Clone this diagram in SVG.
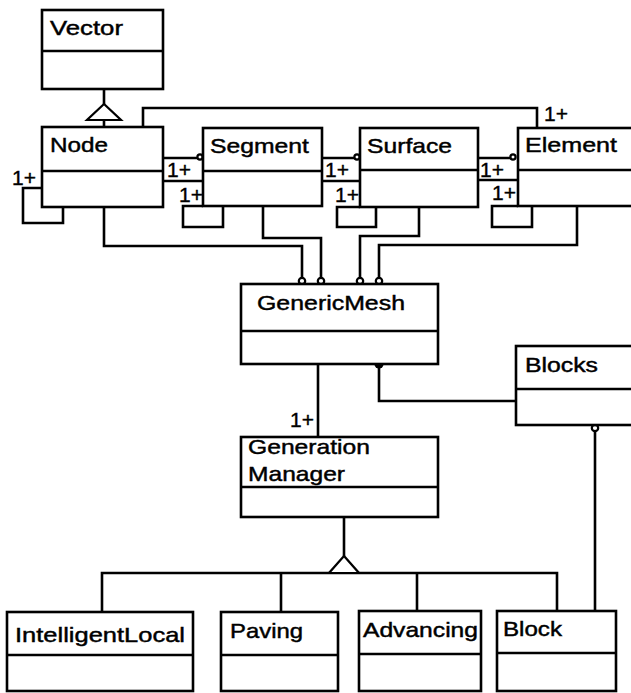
<svg xmlns="http://www.w3.org/2000/svg" width="631" height="693" viewBox="0 0 631 693">
  <style>
    .box { fill: #fff; stroke: #000; stroke-width: 2.6; }
    .div { stroke: #000; stroke-width: 2.4; fill: none; }
    .ln { stroke: #000; stroke-width: 2.6; fill: none; stroke-linejoin: miter; }
    .lbl { font-family: "Liberation Sans", Arial, Helvetica, sans-serif; font-size: 21px; fill: #000; stroke: #000; stroke-width: 0.45; }
    .mult { font-family: "Liberation Sans", Arial, Helvetica, sans-serif; font-size: 21px; fill: #000; stroke: #000; stroke-width: 0.4; }
    .hollow { fill: #fff; stroke: #000; stroke-width: 2.2; }
    .dot { fill: #000; stroke: none; }
  </style>
  <rect width="631" height="693" fill="#fff"/>

  <!-- associations, aggregations and generalizations -->
  <g id="connectors">
    <!-- Vector generalization -->
    <path class="ln" d="M104,89 V104 M104,120 V127"/>
    <polygon class="hollow" points="104,104 87,120 121,120"/>

    <!-- Node to Element over the top -->
    <path class="ln" d="M143,127 V108 H537 V128"/>
    <text class="mult" x="544" y="121">1+</text>

    <!-- self associations -->
    <path class="ln" d="M42,188 H23 V223 H63 V207"/>
    <text class="mult" x="12" y="185">1+</text>
    <path class="ln" d="M203,206 H183 V227 H223 V206"/>
    <text class="mult" x="179" y="202">1+</text>
    <path class="ln" d="M360,207 H337 V227 H376 V207"/>
    <text class="mult" x="335" y="202">1+</text>
    <path class="ln" d="M518,206 H492 V227 H532 V206"/>
    <text class="mult" x="492" y="200">1+</text>

    <!-- neighbour links -->
    <path class="ln" d="M163,158 H198 M163,181 H203"/>
    <circle class="hollow" cx="200" cy="157" r="2.6"/>
    <text class="mult" x="167" y="177">1+</text>
    <path class="ln" d="M322,158 H355 M322,181 H360"/>
    <circle class="hollow" cx="357" cy="157" r="2.6"/>
    <text class="mult" x="325" y="177">1+</text>
    <path class="ln" d="M478,158 H511 M478,180 H518"/>
    <circle class="hollow" cx="513" cy="157" r="2.6"/>
    <text class="mult" x="480" y="177">1+</text>

    <!-- parts of GenericMesh -->
    <path class="ln" d="M104,207 V246 H302 V278"/>
    <path class="ln" d="M263,206 V238 H321 V278"/>
    <path class="ln" d="M419,207 V236 H360 V278"/>
    <path class="ln" d="M577,206 V245 H379 V278"/>
    <circle class="hollow" cx="302" cy="281" r="3.2"/>
    <circle class="hollow" cx="321" cy="281" r="3.2"/>
    <circle class="hollow" cx="360" cy="281" r="3.2"/>
    <circle class="hollow" cx="379" cy="281" r="3.2"/>

    <!-- GenericMesh to Generation Manager -->
    <path class="ln" d="M318,364 V437"/>
    <text class="mult" x="290" y="427">1+</text>

    <!-- GenericMesh to Blocks -->
    <path class="ln" d="M379,364 V401 H516"/>
    <circle class="dot" cx="379" cy="364" r="4.6"/>

    <!-- Blocks to Block -->
    <path class="ln" d="M595,431 V611"/>
    <circle class="hollow" cx="595" cy="428" r="3.2"/>

    <!-- Generation Manager specializations -->
    <path class="ln" d="M344,517 V556"/>
    <path class="ln" d="M102,612 V573 H557 V611 M281,573 V612 M417,573 V611"/>
    <polygon class="hollow" points="344,556 329,573 359,573"/>
  </g>

  <g id="vector">
    <rect class="box" x="42" y="10" width="121" height="79"/>
    <line class="div" x1="42" y1="51" x2="163" y2="51"/>
    <text class="lbl" x="50" y="35" textLength="73" lengthAdjust="spacingAndGlyphs">Vector</text>
  </g>

  <g id="node">
    <rect class="box" x="42" y="127" width="121" height="80"/>
    <line class="div" x1="42" y1="171" x2="163" y2="171"/>
    <text class="lbl" x="50" y="152" textLength="58" lengthAdjust="spacingAndGlyphs">Node</text>
  </g>

  <g id="segment">
    <rect class="box" x="203" y="128" width="119" height="78"/>
    <line class="div" x1="203" y1="171" x2="322" y2="171"/>
    <text class="lbl" x="210" y="153" textLength="99" lengthAdjust="spacingAndGlyphs">Segment</text>
  </g>

  <g id="surface">
    <rect class="box" x="360" y="128" width="118" height="79"/>
    <line class="div" x1="360" y1="170" x2="478" y2="170"/>
    <text class="lbl" x="367" y="153" textLength="85" lengthAdjust="spacingAndGlyphs">Surface</text>
  </g>

  <g id="element">
    <rect class="box" x="518" y="128" width="130" height="78"/>
    <line class="div" x1="518" y1="170" x2="648" y2="170"/>
    <text class="lbl" x="525" y="152" textLength="92" lengthAdjust="spacingAndGlyphs">Element</text>
  </g>

  <g id="generic-mesh">
    <rect class="box" x="241" y="284" width="197" height="80"/>
    <line class="div" x1="241" y1="331" x2="438" y2="331"/>
    <text class="lbl" x="257" y="310" textLength="148" lengthAdjust="spacingAndGlyphs">GenericMesh</text>
  </g>

  <g id="blocks">
    <rect class="box" x="516" y="346" width="130" height="79"/>
    <line class="div" x1="516" y1="389" x2="646" y2="389"/>
    <text class="lbl" x="525" y="372" textLength="73" lengthAdjust="spacingAndGlyphs">Blocks</text>
  </g>

  <g id="generation-manager">
    <rect class="box" x="241" y="437" width="197" height="80"/>
    <line class="div" x1="241" y1="487" x2="438" y2="487" stroke-width="3.4"/>
    <text class="lbl" x="248" y="454" textLength="122" lengthAdjust="spacingAndGlyphs">Generation</text>
    <text class="lbl" x="248" y="481" textLength="97" lengthAdjust="spacingAndGlyphs">Manager</text>
  </g>

  <g id="intelligent-local">
    <rect class="box" x="7" y="612" width="186" height="79"/>
    <line class="div" x1="7" y1="655" x2="193" y2="655"/>
    <text class="lbl" x="15" y="642" textLength="170" lengthAdjust="spacingAndGlyphs">IntelligentLocal</text>
  </g>

  <g id="paving">
    <rect class="box" x="221" y="612" width="117" height="79"/>
    <line class="div" x1="221" y1="655" x2="338" y2="655"/>
    <text class="lbl" x="230" y="638" textLength="73" lengthAdjust="spacingAndGlyphs">Paving</text>
  </g>

  <g id="advancing">
    <rect class="box" x="359" y="611" width="122" height="80"/>
    <line class="div" x1="359" y1="654" x2="481" y2="654"/>
    <text class="lbl" x="363" y="637" textLength="115" lengthAdjust="spacingAndGlyphs">Advancing</text>
  </g>

  <g id="block">
    <rect class="box" x="497" y="611" width="119" height="80"/>
    <line class="div" x1="497" y1="653" x2="616" y2="653"/>
    <text class="lbl" x="503" y="636" textLength="59" lengthAdjust="spacingAndGlyphs">Block</text>
  </g>
</svg>
